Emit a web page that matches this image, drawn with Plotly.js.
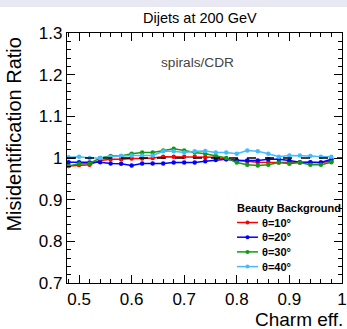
<!DOCTYPE html>
<html><head><meta charset="utf-8">
<script src="https://cdn.plot.ly/plotly-3.0.1.min.js"></script>
<style>html,body{margin:0;padding:0;background:#fff;}#band{position:absolute;left:0;top:0;width:347px;height:7px;background:#e8e8f3;z-index:5}#chart{width:347px;height:329px;}</style>
</head><body>
<div id="band"></div>
<div id="chart"></div>
<script>
const charmEff = [0.48,0.50,0.52,0.54,0.56,0.58,0.60,0.62,0.64,0.66,0.68,0.70,0.72,0.74,0.76,0.78,0.80,0.82,0.84,0.86,0.88,0.90,0.92,0.94,0.96,0.98];
const theta10 = [0.981,0.983,0.984,0.994,0.997,0.997,0.999,0.999,1.000,1.003,1.003,1.003,1.003,1.002,1.002,0.997,0.994,0.992,0.990,0.990,0.989,0.989,0.989,0.989,0.989,0.992];
const theta20 = [0.990,0.990,0.989,0.990,0.987,0.986,0.982,0.987,0.987,0.987,0.989,0.989,0.989,0.992,0.995,0.997,0.994,0.994,0.994,0.997,0.997,0.994,0.990,0.990,0.989,0.997];
const theta30 = [0.981,0.986,0.987,1.000,1.005,1.005,1.010,1.013,1.013,1.018,1.022,1.018,1.013,1.010,1.005,1.000,0.989,0.984,0.982,0.984,0.989,0.986,0.989,0.984,0.984,0.990];
const theta40 = [1.002,1.003,1.000,1.000,1.003,1.005,1.006,1.006,1.006,1.016,1.016,1.013,1.016,1.017,1.013,1.013,1.010,1.018,1.016,1.010,1.003,1.006,1.006,1.005,1.003,1.003];
const seriesNames = ['θ=10°','θ=20°','θ=30°','θ=40°'];
const seriesColors = ['#ff0000','#0000ff','#119911','#44bbff'];
const seriesData = [theta10, theta20, theta30, theta40];
const legendTitle = 'Beauty Background';
const xTickVals = [0.5,0.6,0.7,0.8,0.9,1.0];
const xTickText = ['0.5','0.6','0.7','0.8','0.9','1'];
const yTickVals = [0.7,0.8,0.9,1.0,1.1,1.2,1.3];
const yTickText = ['0.7','0.8','0.9','1','1.1','1.2','1.3'];

const traces = seriesData.map((ys,i)=>({
  x: charmEff, y: ys, type:'scatter', mode:'lines+markers', name: seriesNames[i],
  line:{color:seriesColors[i], width:1.5}, marker:{color:seriesColors[i], size:4.5, symbol:'circle'}
}));

// plot-area geometry (pixels) used to place the hand-drawn legend
const W = 347, H = 329, ML = 67, MR = 5, MT = 33, MB = 46;
const PW = W - ML - MR, PH = H - MT - MB;
const px = v => (v - ML) / PW;
const py = v => (H - MB - v) / PH;

const font = "'Liberation Sans', Arial, sans-serif";
const shapes = [{type:'line', xref:'paper', x0:0, x1:1, yref:'y', y0:1, y1:1, line:{color:'#000', width:1.5, dash:'dash'}, layer:'above'}];
const annotations = [
  {text:'spirals/CDR', xref:'paper', yref:'paper', x:0.473, y:0.884, xanchor:'center', yanchor:'middle', showarrow:false, font:{family:font, size:13.7, color:'#444'}},
  {text:'Misidentification Ratio', xref:'paper', yref:'paper', x:-0.196, y:0.594, xanchor:'center', yanchor:'middle', textangle:-90, showarrow:false, font:{family:font, size:20, color:'#000'}},
  {text:'Charm eff.', xref:'paper', yref:'paper', x:1.011, y:py(319), xanchor:'right', yanchor:'middle', showarrow:false, font:{family:font, size:19, color:'#000'}},
  {text:'<b>'+legendTitle+'</b>', xref:'paper', yref:'paper', x:px(235), y:py(208), xanchor:'left', yanchor:'middle', showarrow:false, font:{family:font, size:11, color:'#000'}}
];
seriesNames.forEach((n,i)=>{
  const yc = 222.5 + i*14.7;
  shapes.push({type:'line', xref:'paper', yref:'paper', x0:px(237), x1:px(258), y0:py(yc), y1:py(yc), line:{color:seriesColors[i], width:1.5}, layer:'above'});
  shapes.push({type:'circle', xref:'paper', yref:'paper', x0:px(245.5), x1:px(249.5), y0:py(yc+2), y1:py(yc-2), line:{width:0}, fillcolor:seriesColors[i], layer:'above'});
  annotations.push({text:'<b>'+n+'</b>', xref:'paper', yref:'paper', x:px(260), y:py(yc), xanchor:'left', yanchor:'middle', showarrow:false, font:{family:font, size:11, color:'#000'}});
});

const axisCommon = {
  showgrid:false, zeroline:false, showline:true, linecolor:'#000', linewidth:1.2, mirror:'allticks',
  ticks:'inside', ticklen:8, tickwidth:1, tickcolor:'#000', ticklabeloverflow:'allow',
  tickfont:{family:font, size:17, color:'#000'}, fixedrange:true
};
const layout = {
  width:W, height:H,
  margin:{l:ML, r:MR, t:MT, b:MB, pad:0},
  paper_bgcolor:'#fff', plot_bgcolor:'#fff',
  showlegend:false,
  title:{text:'Dijets at 200 GeV', font:{family:font, size:14.5, color:'#000'}, x:0.576, xanchor:'center', y:0.945, yanchor:'middle', xref:'container', yref:'container'},
  xaxis: Object.assign({}, axisCommon, {range:[0.477,1.0002], tickvals:xTickVals, ticktext:xTickText,
    minor:{dtick:0.02, ticklen:4, ticks:'inside', tickcolor:'#000'}}),
  yaxis: Object.assign({}, axisCommon, {range:[0.7,1.3], tickvals:yTickVals, ticktext:yTickText,
    minor:{dtick:0.02, ticklen:4, ticks:'inside', tickcolor:'#000'}}),
  shapes: shapes,
  annotations: annotations
};
Plotly.newPlot('chart', traces, layout, {displayModeBar:false, staticPlot:true});
</script>
</body></html>
